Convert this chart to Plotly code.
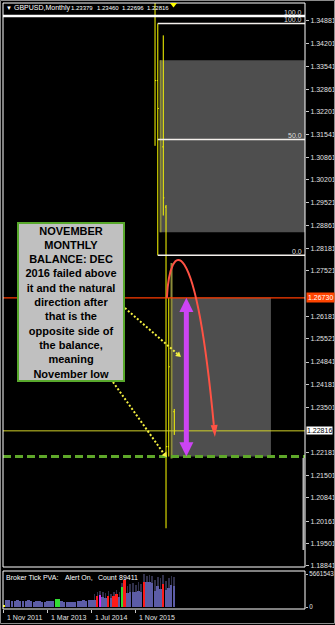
import plotly.graph_objects as go

W, H = 335, 625

# ---------------- data ----------------
# bar index = months since Nov 2011
bar_idx = [55, 56, 57, 58, 59, 60, 61, 62]          # Jun 2016 .. Jan 2017
opens  = [1.4205, 1.3312, 1.3230, 1.3117, 1.2940, 1.2235, 1.2470, 1.23379]
highs  = [1.5018, 1.3480, 1.3372, 1.3445, 1.2946, 1.2673, 1.2775, 1.23460]
lows   = [1.3120, 1.2798, 1.2866, 1.2915, 1.1995, 1.2206, 1.2200, 1.22696]
closes = [1.3312, 1.3230, 1.3117, 1.2967, 1.2235, 1.2470, 1.2338, 1.22816]
bar_tone = ["y", "y", "o", "y", "y", "y", "o", "y"]

vol_idx = list(range(63))
volumes = [285000, 1144000, 1144000, 1030000, 970000, 1144000, 1090000, 970000,
           1030000, 1144000, 1030000, 915000, 970000, 1030000, 915000, 860000,
           970000, 1030000, 1090000, 1370000, 1320000, 1030000, 860000, 800000,
           915000, 860000, 915000, 1030000, 970000, 1200000, 1030000, 1144000,
           1200000, 1250000, 1890000, 2120000, 1720000, 1600000, 1940000, 1490000,
           1890000, 2170000, 1770000, 3430000, 4570000, 2400000, 2570000, 2630000,
           2570000, 2740000, 2520000, 4350000, 4230000, 4290000, 4120000, 2740000,
           3550000, 3150000, 4000000, 2860000, 3320000, 3770000, 3550000]
vol_type = (["y"] + ["n"] * 18 + ["g", "g"] + ["n"] * 13 + ["r", "m", "n", "n", "r", "n", "r", "r", "n", "g", "r"]
            + ["n"] * 6 + ["r"] + ["n"] * 6 + ["r"] + ["n"] * 4)
whisk_idx = list(range(33, 63))
whiskers = [2300000, 2600000, 2800000, 2500000, 2400000, 2700000, 2200000, 2600000, 2900000, 2500000,
            4200000, 5000000, 3600000, 3900000, 4100000, 3800000, 4300000, 4000000, 5600000, 5400000,
            5500000, 5300000, 4600000, 5200000, 4900000, 5500000, 4400000, 5000000, 5300000, 5100000]
vol_max = 5661543

price_ticks = [1.34881, 1.34201, 1.33541, 1.32861, 1.32201, 1.31541, 1.30861, 1.30201, 1.29521,
               1.28861, 1.28181, 1.27521, 1.26181, 1.25521, 1.24841, 1.24181, 1.23501,
               1.22181, 1.21501, 1.20841, 1.20161, 1.19501, 1.18841]
date_tick_idx = [0, 16, 32, 48]
date_tick_labels = ["1 Nov 2011", "1 Mar 2013", "1 Jul 2014", "1 Nov 2015"]

AUG = bar_idx.index(57)
JUL = bar_idx.index(56)
NOV = bar_idx.index(60)
NOV_HIGH, NOV_LOW = highs[NOV], lows[NOV]
LAST = closes[-1]
FIB_TOP = 1.3502

title_parts = ["▼", "GBPUSD,Monthly"] + [f"{v:.5f}" for v in (opens[-1], highs[-1], lows[-1], closes[-1])]
pva_parts = ["Broker Tick PVA:", "Alert On,", "Count", "89411"]
note_text = ("NOVEMBER<br>MONTHLY<br>BALANCE: DEC<br>2016 failed above<br>it and the natural<br>"
             "direction after<br>that is the<br>opposite side of<br>the balance,<br>meaning<br>November low")

# ---------------- figure ----------------
SMALL = "Liberation Sans, Arial, sans-serif"
FS = 7
fig = go.Figure()

tone_col = {"y": ("#ffff00", 1), "o": ("#8c8c3a", 2)}
for tone, (col, lw) in tone_col.items():
    sel = [i for i, t in enumerate(bar_tone) if t == tone]
    xs = [bar_idx[i] for i in sel]
    gaps = [b - a for a, b in zip(xs, xs[1:])] or [1]
    fig.add_trace(go.Ohlc(
        x=xs, open=[opens[i] for i in sel], high=[highs[i] for i in sel],
        low=[lows[i] for i in sel], close=[closes[i] for i in sel],
        increasing=dict(line=dict(color=col, width=lw)),
        decreasing=dict(line=dict(color=col, width=lw)),
        tickwidth=min(0.5, 0.38 / min(gaps)), xaxis="x", yaxis="y",
        showlegend=False, hoverinfo="skip"))

vcol = {"n": "#5c5ca6", "r": "#ff1a1a", "g": "#33dd33", "m": "#cc33ff", "y": "#ffff00"}
fig.add_trace(go.Bar(x=whisk_idx, y=whiskers, width=0.25, marker=dict(color="#30304a", line_width=0),
                     xaxis="x", yaxis="y2", showlegend=False, hoverinfo="skip"))
fig.add_trace(go.Bar(x=vol_idx, y=volumes, width=0.7,
                     marker=dict(color=[vcol[t] for t in vol_type], line_width=0),
                     xaxis="x", yaxis="y2", showlegend=False, hoverinfo="skip"))

shapes = []
# rectangles (Aug range and Nov range)
shapes.append(dict(type="rect", xref="x", yref="y", x0=bar_idx[AUG] - 0.2, x1=130,
                   y0=lows[AUG], y1=highs[AUG], fillcolor="#4e4e4e", line_width=0, layer="below"))
shapes.append(dict(type="rect", xref="x", yref="y", x0=60.9, x1=97.2,
                   y0=NOV_LOW, y1=NOV_HIGH, fillcolor="#4e4e4e", line_width=0, layer="below"))
# fib lines
shapes.append(dict(type="line", xref="x domain", yref="y", x0=0, x1=1, y0=FIB_TOP, y1=FIB_TOP,
                   line=dict(color="#ffffff", width=2.5)))
jh, jl = highs[JUL], lows[JUL]
for lv in (jh, (jh + jl) / 2, jl):
    shapes.append(dict(type="line", xref="x", yref="y", x0=bar_idx[JUL], x1=130, y0=lv, y1=lv,
                       line=dict(color="#f4f0ec", width=1.5)))
# horizontal levels
shapes.append(dict(type="line", xref="x domain", yref="y", x0=0, x1=1, y0=NOV_HIGH, y1=NOV_HIGH,
                   line=dict(color="#ff3c00", width=1.2)))
shapes.append(dict(type="line", xref="x domain", yref="y", x0=0, x1=1, y0=LAST, y1=LAST,
                   line=dict(color="#d0d028", width=1)))
shapes.append(dict(type="line", xref="x domain", yref="y", x0=0, x1=1, y0=NOV_LOW, y1=NOV_LOW,
                   line=dict(color="#5fa82a", width=3, dash="8px,4px")))
# magenta double arrow across the November balance
MX, HW, HH = 66.4, 2.55, 0.0042
MAG = "#cc44f4"
shapes.append(dict(type="line", xref="x", yref="y", x0=MX, x1=MX, y0=NOV_HIGH - HH + 0.0005,
                   y1=NOV_LOW + HH - 0.0005, line=dict(color=MAG, width=5)))
shapes.append(dict(type="path", xref="x", yref="y", fillcolor=MAG, line_width=0,
                   path=f"M {MX},{NOV_HIGH} L {MX-HW},{NOV_HIGH-HH} L {MX+HW},{NOV_HIGH-HH} Z"))
shapes.append(dict(type="path", xref="x", yref="y", fillcolor=MAG, line_width=0,
                   path=f"M {MX},{NOV_LOW} L {MX-HW},{NOV_LOW+HH} L {MX+HW},{NOV_LOW+HH} Z"))
# red arc
RED = "#ff5244"
shapes.append(dict(type="path", xref="x", yref="y", line=dict(color=RED, width=2),
                   path=f"M 59.3,{NOV_HIGH} C 60.4,1.2843 69.5,1.2887 76.4,1.2299"))
shapes.append(dict(type="path", xref="x", yref="y", fillcolor=RED, line_width=0,
                   path="M 76.81,1.22633 L 77.79,1.22997 L 75.25,1.22979 Z"))
# yellow dotted pointers
YEL = "#f4f040"
shapes.append(dict(type="line", xref="x", yref="y", x0=44.05, y0=1.2643, x1=63.05, y1=1.25086,
                   line=dict(color=YEL, width=2, dash="2px,2px")))
shapes.append(dict(type="path", xref="x", yref="y", fillcolor=YEL, line_width=0,
                   path="M 64.43,1.24989 L 62.32,1.25018 L 63.78,1.25153 Z"))
shapes.append(dict(type="line", xref="x", yref="y", x0=39.68, y0=1.24253, x1=58.28, y1=1.22136,
                   line=dict(color=YEL, width=2, dash="2px,2px")))
shapes.append(dict(type="path", xref="x", yref="y", fillcolor=YEL, line_width=0,
                   path="M 59.34,1.2204 L 57.41,1.22100 L 59.15,1.22206 Z"))
# frames
shapes.append(dict(type="rect", xref="x domain", yref="y domain", x0=0, x1=1, y0=0, y1=1,
                   line=dict(color="#ffffff", width=1), layer="above"))
shapes.append(dict(type="rect", xref="x domain", yref="y2 domain", x0=0, x1=1, y0=0, y1=1,
                   line=dict(color="#ffffff", width=1), layer="above"))
shapes.append(dict(type="line", xref="paper", yref="paper", x0=303.5 / W, x1=303.5 / W,
                   y0=1 - 458 / H, y1=1 - 550 / H, line=dict(color="#b4b4b4", width=2)))
shapes.append(dict(type="path", xref="paper", yref="paper", fillcolor="#ffff00", line_width=0,
                   path=f"M {170/W},{1-3/H} L {177/W},{1-3/H} L {173.5/W},{1-7.5/H} Z"))
shapes.append(dict(type="rect", xref="paper", yref="paper", x0=0.5 / W, x1=1 - 0.5 / W,
                   y0=1.5 / H, y1=1 - 0.5 / H, line=dict(color="#8c8c8c", width=1)))

ann = []
for t, px, fs in zip(title_parts, [5, 13, 70, 95.5, 120.5, 145.5], [6, 7, 6, 6, 6, 6]):
    ann.append(dict(xref="paper", yref="paper", x=px / W, y=1 - 8 / H, xanchor="left", yanchor="middle",
                    text=t, showarrow=False, borderpad=0, font=dict(family=SMALL, size=fs, color="#ffffff")))
for t, px in zip(pva_parts, [4.5, 64, 97, 117.5]):
    ann.append(dict(xref="paper", yref="paper", x=px / W, y=1 - 577 / H, xanchor="left", yanchor="middle",
                    text=t, showarrow=False, borderpad=0, font=dict(family=SMALL, size=FS, color="#ffffff")))
for v, t in zip(date_tick_idx, date_tick_labels):
    ann.append(dict(xref="x", yref="paper", x=v, y=1 - 617 / H, xanchor="left", yanchor="middle",
                    xshift=1, text=t, showarrow=False, font=dict(family=SMALL, size=FS, color="#e0e0e0")))
for lv, lab in [(FIB_TOP, "100.0"), (jh, "100.0"), ((jh + jl) / 2, "50.0"), (jl, "0.0")]:
    ann.append(dict(xref="x domain", yref="y", x=300 / 302, y=lv, xanchor="right", yanchor="bottom",
                    yshift=-1, text=lab, showarrow=False, borderpad=0,
                    font=dict(family=SMALL, size=FS, color="#dcdcdc")))
ann.append(dict(xref="paper", yref="y", x=306 / W, y=NOV_HIGH, xanchor="left", yanchor="middle",
                text=f"{NOV_HIGH:.5f}", showarrow=False,
                bgcolor="#ff4400", borderpad=1, font=dict(family=SMALL, size=FS, color="#ffffff")))
ann.append(dict(xref="paper", yref="y", x=306 / W, y=LAST, xanchor="left", yanchor="middle",
                text=f"{LAST:.5f}", showarrow=False, bgcolor="#ffffff", borderpad=0,
                font=dict(family=SMALL, size=FS, color="#000000")))
ann.append(dict(xref="paper", yref="paper", x=17 / W, y=1 - 222 / H, xanchor="left", yanchor="top",
                text=note_text, showarrow=False, align="center", valign="middle",
                bgcolor="#c0c0c0", bordercolor="#58a82c", borderwidth=2, borderpad=0,
                width=104, height=156,
                font=dict(family="Liberation Sans, Arial, sans-serif", size=11, color="#000000", weight=700)))

tickfont = dict(family=SMALL, size=FS, color="#e0e0e0")
fig.update_layout(
    width=W, height=H, margin=dict(l=0, r=0, t=0, b=0, autoexpand=False),
    paper_bgcolor="#000000", plot_bgcolor="#000000",
    barmode="overlay", bargap=0, showlegend=False,
    xaxis=dict(domain=[3 / W, 305 / W], range=[-0.36, 109.6], anchor="y2", automargin=False,
               showgrid=False, zeroline=False, showline=False,
               tickvals=date_tick_idx, ticks="outside", ticklen=3, tickcolor="#c8c8c8",
               showticklabels=False, rangeslider=dict(visible=False)),
    yaxis=dict(domain=[1 - 567 / H, 1 - 3 / H], range=[1.18811, 1.35402], side="right", anchor="x",
               automargin=False, ticklabeloverflow="allow",
               tickvals=price_ticks, ticktext=[f"{v:.5f}" for v in price_ticks],
               ticks="outside", ticklen=3, tickcolor="#c8c8c8", tickfont=tickfont,
               showgrid=False, zeroline=False, showline=False),
    yaxis2=dict(domain=[1 - 609 / H, 1 - 571 / H], range=[-343124, 6176229], side="right", anchor="x",
                automargin=False, ticklabeloverflow="allow", ticklabelstandoff=0,
                tickvals=[0, vol_max], ticktext=["0", str(vol_max)],
                ticks="outside", ticklen=2, tickcolor="#c8c8c8",
                tickfont=dict(family=SMALL, size=6.3, color="#e0e0e0"),
                showgrid=False, zeroline=False, showline=False),
    shapes=shapes, annotations=ann,
)

fig.write_html("out.html", config={"displayModeBar": False})
